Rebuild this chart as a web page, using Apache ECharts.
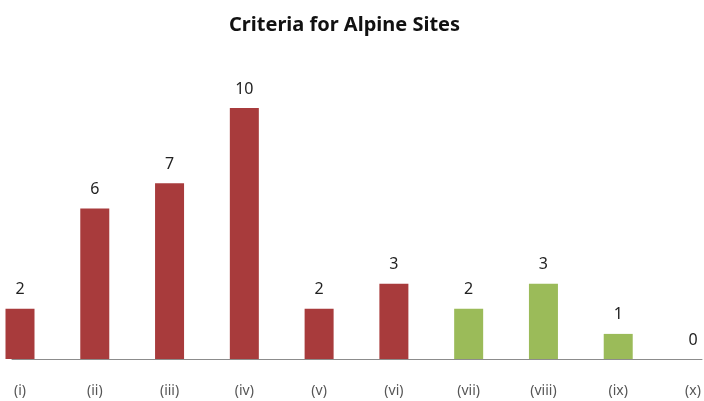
<!DOCTYPE html>
<html>
<head>
<meta charset="utf-8">
<script src="https://cdn.jsdelivr.net/npm/echarts@6/dist/echarts.min.js"></script>
<style>
html, body { margin: 0; padding: 0; background: #fff; }
#chart { width: 704px; height: 401px; }
</style>
</head>
<body>
<div id="chart"></div>
<script>
var categories = ['(i)', '(ii)', '(iii)', '(iv)', '(v)', '(vi)', '(vii)', '(viii)', '(ix)', '(x)'];
var counts = [2, 6, 7, 10, 2, 3, 2, 3, 1, 0];
var groups = ['red', 'red', 'red', 'red', 'red', 'red', 'green', 'green', 'green', 'green'];

var palette = { red: '#A83B3C', green: '#9BBB59' };

var myChart = echarts.init(document.getElementById('chart'));
var option = {
    animation: false,
    title: {
        text: 'Criteria for Alpine Sites',
        left: 224,
        top: 10,
        textStyle: {
            fontFamily: 'Noto Sans',
            fontSize: 20,
            fontWeight: 'bold',
            color: '#111'
        }
    },
    grid: [
        // bars: first and last category sit on the grid edges
        { left: 20, right: 11, top: 108, bottom: 42 },
        // only for the long baseline
        { left: 12, right: 2, top: 108, bottom: 42 }
    ],
    xAxis: [{
        type: 'category',
        gridIndex: 0,
        data: categories,
        boundaryGap: false,
        axisTick: { show: false },
        axisLine: { show: false },
        axisLabel: {
            margin: 25,
            fontFamily: 'Noto Sans',
            fontSize: 14,
            color: '#555'
        }
    }, {
        type: 'category',
        gridIndex: 1,
        data: categories,
        axisTick: { show: false },
        axisLabel: { show: false },
        axisLine: { lineStyle: { color: '#8c8c8c', width: 1 } }
    }],
    yAxis: [
        { type: 'value', gridIndex: 0, min: 0, max: 10, show: false },
        { type: 'value', gridIndex: 1, min: 0, max: 10, show: false }
    ],
    series: [{
        type: 'bar',
        xAxisIndex: 0,
        yAxisIndex: 0,
        barWidth: 29,
        clip: false,
        data: counts.map(function (v, i) {
            return { value: v, itemStyle: { color: palette[groups[i]] } };
        }),
        label: {
            show: true,
            position: 'top',
            distance: 11,
            fontFamily: 'Noto Sans',
            fontSize: 16,
            color: '#222'
        }
    }]
};
myChart.setOption(option);
</script>
</body>
</html>
